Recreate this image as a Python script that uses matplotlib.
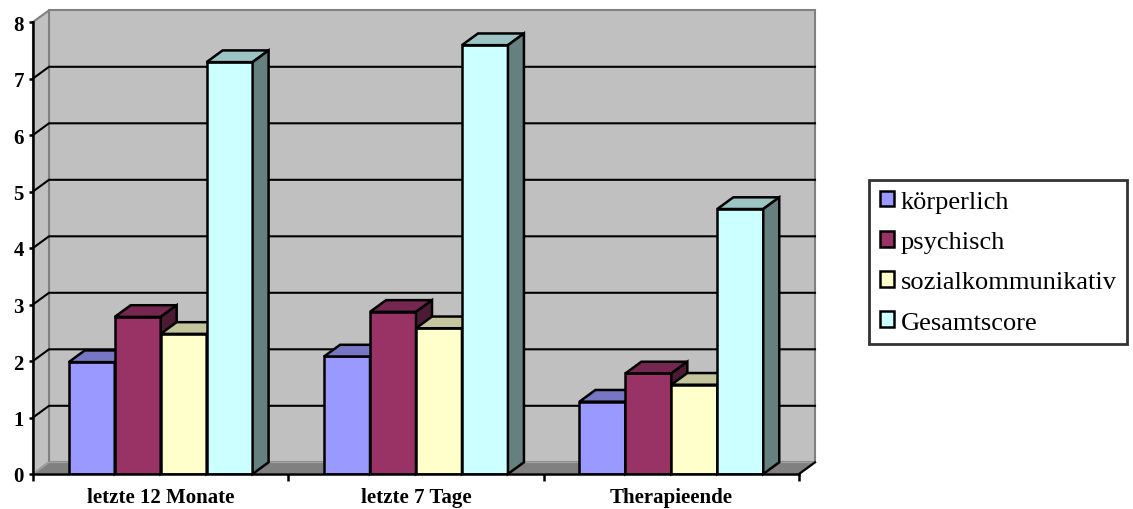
import matplotlib
matplotlib.use("Agg")
import matplotlib.pyplot as plt
from matplotlib.patches import Polygon, Patch
from matplotlib.lines import Line2D
from matplotlib.colors import to_rgb

plt.rcParams['font.family'] = ['Liberation Serif', 'DejaVu Serif']

# Daten
zeitpunkte = ["letzte 12 Monate", "letzte 7 Tage", "Therapieende"]
skalen = ["körperlich", "psychisch", "sozialkommunikativ", "Gesamtscore"]
koerperlich = [1.98, 2.08, 1.28]
psychisch = [2.78, 2.87, 1.78]
sozialkommunikativ = [2.48, 2.58, 1.58]
gesamtscore = [7.29, 7.59, 4.69]
werte = [koerperlich, psychisch, sozialkommunikativ, gesamtscore]
farben = ["#9999FF", "#993366", "#FFFFCC", "#CCFFFF"]
y_ticks = [0, 1, 2, 3, 4, 5, 6, 7, 8]


def shade(c, f):
    r, g, b = to_rgb(c)
    return (r * f, g * f, b * f)


fig = plt.figure(figsize=(11.33, 5.10), dpi=100)
ax = fig.add_axes([33 / 1133, 35 / 510, 766 / 1133, 452 / 510])
ax.set_xlim(-0.5, 2.5)
ax.set_ylim(0, 8)

# Tiefe des 3D-Effekts in Datenkoordinaten
dx = 16 / 255.33
dy = 11.7 / 56.5
x0, x1 = -0.5, 2.5
ytop = 8

wall = "#C0C0C0"
edge_gray = "#808080"

# Rueckwand, Seitenwand, Boden
ax.add_patch(Polygon([(x0 + dx, dy), (x1 + dx, dy), (x1 + dx, ytop + dy), (x0 + dx, ytop + dy)],
                     closed=True, fc=wall, ec=edge_gray, lw=1.5, zorder=0.5, clip_on=False))
ax.add_patch(Polygon([(x0, 0), (x0 + dx, dy), (x0 + dx, ytop + dy), (x0, ytop)],
                     closed=True, fc=wall, ec=edge_gray, lw=1.5, zorder=0.6, clip_on=False))
ax.add_patch(Polygon([(x0, 0), (x1, 0), (x1 + dx, dy), (x0 + dx, dy)],
                     closed=True, fc="#808080", ec="#A0A0A0", lw=1.2, zorder=0.7, clip_on=False))
ax.add_line(Line2D([x1, x1 + dx], [0, dy], color="black", lw=1.6, zorder=0.8, clip_on=False))

# Gitternetz
for v in y_ticks[1:-1]:
    ax.add_line(Line2D([x0, x0 + dx, x1 + dx], [v, v + dy, v + dy],
                       color="black", lw=1.5, zorder=1, clip_on=False))

# Saeulen
n = len(skalen)
w = 0.18
for gi in range(len(zeitpunkte)):
    for si in range(n):
        h = werte[si][gi]
        left = gi + (si - n / 2) * w
        right = left + w
        z = 3 + si * 0.1
        ax.bar(left, h, width=w, align="edge", color=farben[si], edgecolor="black",
               linewidth=1.8, zorder=z)
        ax.add_patch(Polygon([(left, h), (right, h), (right + dx, h + dy), (left + dx, h + dy)],
                             closed=True, fc=shade(farben[si], 0.77), ec="black", lw=1.8,
                             joinstyle="miter", zorder=z + 0.01, clip_on=False))
        ax.add_patch(Polygon([(right, 0), (right + dx, dy), (right + dx, h + dy), (right, h)],
                             closed=True, fc=shade(farben[si], 0.5), ec="black", lw=1.8,
                             joinstyle="miter", zorder=z + 0.02, clip_on=False))

# Achsen
for s in ["top", "right"]:
    ax.spines[s].set_visible(False)
ax.spines["left"].set_linewidth(1.8)
ax.spines["bottom"].set_linewidth(1.8)
ax.spines["left"].set_zorder(5)
ax.spines["bottom"].set_zorder(5)
ax.set_yticks(y_ticks)
ax.set_yticklabels([str(t) for t in y_ticks], fontsize=15, fontweight="bold")
ax.tick_params(axis="y", direction="out", length=3, width=1.8, pad=3.5)
ax.set_xticks(range(len(zeitpunkte)))
ax.set_xticklabels(zeitpunkte, fontsize=15, fontweight="bold")
ax.set_xticks([x0 + i for i in range(len(zeitpunkte) + 1)], minor=True)
ax.tick_params(axis="x", which="major", length=0, pad=9.5)
ax.tick_params(axis="x", which="minor", direction="out", length=5, width=1.8)
ax.set_facecolor("none")

handles = [Patch(facecolor=c, edgecolor="black", linewidth=1.8) for c in farben]
leg = fig.legend(handles, skalen, loc="upper left", bbox_to_anchor=(869 / 1133, 1 - 181 / 510),
                 borderaxespad=0, fontsize=19, frameon=True, fancybox=False,
                 handlelength=0.55, handleheight=0.55, handletextpad=0.25,
                 labelspacing=0.68, borderpad=0.4)
leg.get_frame().set_edgecolor("black")
leg.get_frame().set_linewidth(2)

fig.savefig("out.png", dpi=100)
